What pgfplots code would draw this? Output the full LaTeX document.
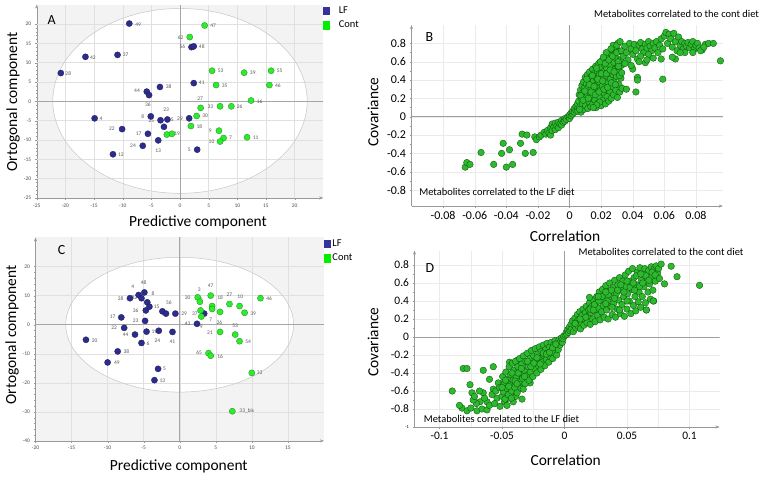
\documentclass[border=0pt]{standalone}
\usepackage{pgfplots}
\pgfplotsset{compat=1.18}
\usepackage{fontspec}
\setmainfont{Carlito}
\usetikzlibrary{arrows.meta}

\definecolor{lfblue}{RGB}{44,44,140}
\definecolor{lfedge}{RGB}{28,28,88}
\definecolor{cgreen}{RGB}{45,235,45}
\definecolor{cedge}{RGB}{25,140,25}
\definecolor{lgblue}{RGB}{51,51,153}
\definecolor{lggreen}{RGB}{0,240,0}
\definecolor{bdgreen}{RGB}{45,185,45}
\definecolor{bdedge}{RGB}{15,85,15}
\definecolor{pcabg}{RGB}{243,243,243}

\tikzset{gridc/.style={gray!24, line width=0.4bp}}

\pgfplotsset{
  base/.style={
    scale only axis, axis lines=left,
    axis line style={gray!80, -{Stealth[length=4bp,width=3bp]}},
    tick style={gray!80}, tick align=outside,
    major tick length=2bp, minor tick length=1.2bp,
    /pgf/number format/assume math mode=true,
  },
  pca/.style={base, axis background/.style={fill=pcabg},
    ticklabel style={font=\fontsize{5.5}{6}\selectfont, text=black!70},
    minor tick num=4,
    legend style={at={(1,1)}, anchor=north west, draw=none, fill=none,
      font=\fontsize{10.5}{12}\selectfont, inner sep=0pt, row sep=2bp,
      cells={anchor=west}},
  },
  lbl/.style={draw=none, mark=none, forget plot, nodes near coords,
    point meta=explicit symbolic,
    every node near coord/.append style={anchor=center, inner sep=0pt,
      font=\fontsize{5.5}{6}\selectfont, text=black!65}},
  lfpt/.style={only marks, forget plot, mark=*, mark size=3.1bp,
    mark options={fill=lfblue, draw=lfedge, line width=0.3bp}},
  copt/.style={only marks, forget plot, mark=*, mark size=3.1bp,
    mark options={fill=cgreen, draw=cedge, line width=0.3bp}},
  splot/.style={base, grid=major,
    scaled ticks=false,
    xticklabel style={/pgf/number format/fixed, /pgf/number format/precision=2},
    yticklabel style={/pgf/number format/fixed, /pgf/number format/precision=1},
    minor y tick num=1,
    major grid style={gray!16, line width=0.4bp},
  },
  bdpt/.style={only marks, mark=*, mark size=3.3bp,
    mark options={fill=bdgreen, draw=bdedge, line width=0.35bp}},
}

\begin{document}
\begin{tikzpicture}[x=1bp,y=1bp]
\path[use as bounding box] (0,0) rectangle (764,481);

% ---------------- A ----------------
\begin{axis}[pca, at={(36.75bp,283bp)}, anchor=south west,
  width=286.5bp, height=193.4bp,
  xmin=-25, xmax=25, ymin=-25, ymax=25,
  xtick={-25,-20,...,20}, ytick={-25,-20,...,20},
  legend style={/tikz/every odd column/.append style={column sep=7bp}}]
\fill[white] (axis cs:0,0.1) ellipse [x radius=22.2, y radius=23.9];
\pgfplotsinvokeforeach{-20,-15,...,20}{\draw[gridc] (axis cs:#1,-25) -- (axis cs:#1,25);}
\pgfplotsinvokeforeach{-20,-15,...,20}{\draw[gridc] (axis cs:-25,#1) -- (axis cs:25,#1);}
\draw[gray!45, line width=0.5bp] (axis cs:0,0.1) ellipse [x radius=22.2, y radius=23.9];
\draw[gray!70, line width=0.5bp] (axis cs:0,-25) -- (axis cs:0,25);
\draw[gray!70, line width=0.5bp] (axis cs:-25,0) -- (axis cs:25,0);
\addplot[lbl] table[meta=l] {
x y l
-7.3 19.9 49
5.8 19.6 47
0.1 16.5 62
0.4 14.1 56
3.8 14.2 48
-15.2 11.3 42
-9.5 12.0 37
-19.5 7.2 28
7.1 7.8 53
12.7 7.3 39
17.4 7.8 55
7.8 4.1 35
17.1 4.1 46
3.8 4.7 41
-2.0 3.7 38
-7.5 2.6 44
-5.6 -0.9 36
3.5 0.6 27
5.3 -1.5 33
10.4 -1.5 26
13.9 0.0 16
-2.4 -2.3 23
0.0 -4.5 29
4.4 -3.8 30
-13.8 -4.4 4
-6.5 -3.9 8
-5.0 -5.1 25
-1.6 -4.7 15
3.4 -6.5 18
-11.9 -7.2 22
5.3 -7.6 9
-7.2 -8.4 17
-0.5 -8.4 19
8.8 -9.3 7
13.2 -9.3 11
5.5 -10.4 10
-8.2 -11.5 24
-3.8 -12.7 13
-10.3 -13.9 12
1.6 -12.6 5
};
\addplot[lfpt] coordinates {
(-8.85,20.1) (-16.5,11.5) (-10.9,12.0) (-20.8,7.3) (-5.8,2.5) (-5.4,1.6)
(-3.5,3.7) (2.4,4.7) (2.0,14.0) (2.4,14.2) (-14.9,-4.4) (-5.1,-3.9)
(-3.4,-4.9) (-2.2,-4.7) (-2.8,-6.6) (1.6,-4.4) (-10.1,-7.2) (-5.6,-8.4)
(-6.5,-11.5) (-3.8,-10.1) (-11.7,-13.7) (3.0,-12.5)
};
\addplot[copt] coordinates {
(4.3,19.6) (1.7,16.6) (5.6,7.9) (11.2,7.4) (15.9,7.9) (6.3,4.2) (15.6,4.2)
(12.4,0.2) (3.6,-1.7) (7.0,-1.3) (8.95,-1.3) (2.9,-3.8) (1.9,-6.4)
(6.8,-7.6) (7.6,-9.5) (7.0,-10.4) (11.7,-9.3) (-2.3,-8.6) (-1.4,-8.4)
};
\addlegendimage{legend image code/.code={\fill[lgblue] (0bp,-3.7bp) rectangle (6bp,3.7bp);}}
\addlegendentry{LF}
\addlegendimage{legend image code/.code={\fill[lggreen] (0bp,-3.7bp) rectangle (6bp,3.7bp);}}
\addlegendentry{Cont}
\end{axis}

% ---------------- C ----------------
\begin{axis}[pca, at={(35.5bp,40.1bp)}, anchor=south west,
  width=288.4bp, height=203.4bp,
  xmin=-20, xmax=20, ymin=-40, ymax=30,
  xtick={-20,-15,...,15}, ytick={-40,-30,...,20}]
\fill[white] (axis cs:0,0) ellipse [x radius=15.8, y radius=23.2];
\pgfplotsinvokeforeach{-15,-10,...,15}{\draw[gridc] (axis cs:#1,-40) -- (axis cs:#1,30);}
\pgfplotsinvokeforeach{-30,-20,...,20}{\draw[gridc] (axis cs:-20,#1) -- (axis cs:20,#1);}
\draw[gray!45, line width=0.5bp] (axis cs:0,0) ellipse [x radius=15.8, y radius=23.2];
\draw[gray!70, line width=0.5bp] (axis cs:0,-40) -- (axis cs:0,30);
\draw[gray!70, line width=0.5bp] (axis cs:-20,0) -- (axis cs:20,0);
\addplot[lbl] table[meta=l] {
x y l
-6.5 13.1 4
-5.0 14.5 48
-3.7 10.8 8
-8.2 9.1 28
-6.3 9.1 32
-6.1 4.9 36
-3.2 6.2 15
-1.5 7.6 56
0.6 3.7 29
-9.3 2.8 17
-6.1 1.3 23
-9.1 -1.1 22
-7.5 -3.6 44
-3.5 -2.4 19
-4.4 -6.5 6
-3.1 -5.5 24
-1.0 -5.9 41
-11.8 -5.4 20
-7.4 -9.3 38
-8.7 -13.0 49
-2.1 -15.3 5
-2.4 -19.3 13
1.1 9.4 30
2.7 11.9 3
2.8 8.7 52
4.3 13.3 47
5.6 9.3 18
6.9 10.4 27
8.4 9.6 10
12.4 9.1 46
10.2 3.9 39
2.1 3.7 37
4.3 1.6 7
1.1 0.3 43
3.0 -0.8 9
5.5 0.8 26
4.2 -2.8 21
7.7 -0.3 53
9.5 -5.9 54
2.7 -9.6 65
5.6 -11.0 16
11.1 -16.7 33
9.3 -29.7 33\_bis
};
\addplot[lfpt] coordinates {
(-5.7,10.2) (-4.9,11.1) (-6.9,9.1) (-5.3,9.1) (-4.5,7.7) (-4.7,4.9)
(-4.2,6.2) (-2.4,4.6) (-1.9,3.8) (-0.6,3.8) (-8.1,2.5) (-4.8,1.3)
(-7.7,-1.1) (-6.2,-3.4) (-4.6,-2.4) (-2.9,-2.1) (-1.0,-2.5) (-5.3,-6.3)
(-13.0,-5.2) (-8.6,-9.2) (-10.0,-13.0) (-3.0,-15.2) (-3.5,-19.1)
(2.4,0.3) (3.4,3.8)
};
\addplot[copt] coordinates {
(2.5,9.4) (2.8,7.9) (4.3,10.0) (4.5,6.4) (4.5,5.4) (5.6,4.4) (6.9,7.1)
(8.3,6.4) (11.2,9.1) (9.0,4.1) (2.9,4.9) (3.0,2.8) (5.6,-2.5) (7.7,-3.4)
(8.3,-5.7) (4.0,-9.8) (4.3,-10.7) (10.0,-16.6) (7.3,-29.8)
};
\addlegendimage{legend image code/.code={\fill[lgblue] (0bp,-3.7bp) rectangle (6bp,3.7bp);}}
\addlegendentry{LF}
\addlegendimage{legend image code/.code={\fill[lggreen] (0bp,-3.7bp) rectangle (6bp,3.7bp);}}
\addlegendentry{Cont}
\end{axis}

% ---------------- B ----------------
\begin{axis}[splot, at={(411.5bp,274.9bp)}, anchor=south west,
  width=311.3bp, height=181bp,
  xmin=-0.1, xmax=0.097, ymin=-0.975, ymax=1,
  xtick={-0.08,-0.06,-0.04,-0.02,0,0.02,0.04,0.06,0.08},
  ytick={-0.8,-0.6,-0.4,-0.2,0,0.2,0.4,0.6,0.8},
  ticklabel style={font=\fontsize{12}{14}\selectfont}]
\draw[gray!75, line width=0.6bp] (axis cs:0,-0.975) -- (axis cs:0,1);
\draw[gray!75, line width=0.6bp] (axis cs:-0.1,0) -- (axis cs:0.097,0);
\addplot[bdpt] coordinates {
(-0.066,-0.55)(-0.065,-0.50)(-0.063,-0.52)(-0.056,-0.39)(-0.048,-0.52)(-0.043,-0.40)
(-0.042,-0.29)(-0.040,-0.55)(-0.038,-0.36)(-0.036,-0.52)(-0.031,-0.29)(-0.030,-0.19)
(-0.028,-0.40)(-0.027,-0.20)(-0.023,-0.39)(-0.022,-0.22)(-0.021,-0.25)(-0.019,-0.22)
(-0.018,-0.20)(-0.016,-0.17)(-0.015,-0.19)(-0.014,-0.15)(-0.013,-0.18)(-0.012,-0.12)
(-0.012,-0.20)(-0.011,-0.08)(-0.011,-0.15)(-0.010,-0.11)(-0.009,-0.14)(-0.009,-0.07)
(-0.008,-0.10)(-0.007,-0.12)(-0.007,-0.06)(-0.006,-0.08)(-0.005,-0.04)(-0.005,-0.09)
(-0.004,-0.06)(-0.003,-0.02)(-0.003,-0.05)(-0.002,-0.03)(-0.001,0.00)(0.000,-0.02)
(0.000,0.02)(0.001,0.01)(0.001,0.04)(0.002,0.03)(0.002,0.06)(0.003,0.05)(0.003,0.09)
(0.004,0.07)(0.004,0.11)(0.005,0.09)(0.005,0.14)
(0.0052,0.06)(0.0058,0.17)(0.0061,0.24)(0.0066,0.11)(0.0069,0.29)(0.0073,0.05)
(0.0075,0.20)(0.0078,0.34)(0.0081,0.14)(0.0084,0.26)(0.0088,0.38)(0.0090,0.08)
(0.0093,0.31)(0.0095,0.19)(0.0099,0.43)(0.0102,0.12)(0.0104,0.27)(0.0107,0.36)
(0.0111,0.22)(0.0113,0.46)(0.0116,0.09)(0.0118,0.32)(0.0121,0.40)(0.0124,0.16)
(0.0127,0.49)(0.0129,0.26)(0.0132,0.37)(0.0135,0.11)(0.0138,0.44)(0.0140,0.21)
(0.0143,0.31)(0.0146,0.52)(0.0148,0.14)(0.0151,0.39)(0.0153,0.27)(0.0157,0.47)
(0.0160,0.18)(0.0162,0.34)(0.0165,0.55)(0.0168,0.10)(0.0170,0.42)(0.0173,0.25)
(0.0176,0.50)(0.0178,0.31)(0.0181,0.15)(0.0184,0.58)(0.0186,0.38)(0.0189,0.46)
(0.0192,0.21)(0.0194,0.29)(0.0197,0.54)(0.0200,0.12)(0.0203,0.41)(0.0205,0.61)
(0.0208,0.34)(0.0211,0.18)(0.0213,0.49)(0.0216,0.26)(0.0219,0.57)(0.0221,0.38)
(0.0224,0.64)(0.0227,0.14)(0.0229,0.45)(0.0232,0.30)(0.0235,0.53)(0.0237,0.22)
(0.0240,0.67)(0.0243,0.37)(0.0245,0.60)(0.0248,0.17)(0.0251,0.48)(0.0253,0.28)
(0.0256,0.70)(0.0259,0.41)(0.0262,0.56)(0.0264,0.20)(0.0267,0.63)(0.0270,0.33)
(0.0272,0.73)(0.0275,0.46)(0.0278,0.24)(0.0281,0.59)(0.0283,0.38)(0.0286,0.68)
(0.0289,0.52)(0.0292,0.29)(0.0294,0.76)(0.0297,0.44)(0.0300,0.63)(0.0303,0.21)
(0.0306,0.55)(0.0309,0.71)(0.0312,0.35)(0.0315,0.49)(0.0318,0.27)(0.0321,0.62)
(0.0325,0.42)(0.0329,0.56)(0.0333,0.31)
(0.0064,0.08)(0.0071,0.23)(0.0086,0.18)(0.0097,0.28)(0.0109,0.41)(0.0119,0.20)
(0.0126,0.35)(0.0137,0.27)(0.0144,0.45)(0.0155,0.33)(0.0163,0.24)(0.0171,0.53)
(0.0179,0.41)(0.0187,0.27)(0.0195,0.60)(0.0202,0.47)(0.0210,0.39)(0.0218,0.30)
(0.0226,0.58)(0.0233,0.47)(0.0241,0.32)(0.0249,0.62)(0.0257,0.51)(0.0265,0.37)
(0.0273,0.66)(0.0282,0.49)(0.0290,0.35)(0.0299,0.70)(0.0308,0.60)(0.0316,0.45)
(0.0276,0.78)(0.0262,0.74)(0.0305,0.80)(0.0232,0.70)(0.0214,0.65)(0.0190,0.16)
(0.0172,0.13)(0.0150,0.10)
(0.030,0.78)(0.032,0.82)(0.033,0.72)(0.034,0.66)(0.035,0.77)(0.036,0.70)(0.037,0.62)
(0.038,0.80)(0.039,0.74)(0.040,0.68)(0.041,0.79)(0.042,0.72)(0.043,0.63)(0.044,0.78)
(0.045,0.81)(0.046,0.74)(0.047,0.70)(0.048,0.79)(0.049,0.75)(0.050,0.82)(0.051,0.77)
(0.052,0.72)(0.053,0.80)(0.054,0.75)(0.055,0.82)(0.056,0.70)(0.057,0.78)(0.058,0.85)
(0.059,0.74)(0.060,0.88)(0.061,0.92)(0.062,0.80)(0.063,0.90)(0.064,0.85)(0.065,0.76)
(0.066,0.91)(0.067,0.82)(0.068,0.72)(0.069,0.87)(0.070,0.78)(0.071,0.82)(0.072,0.74)
(0.073,0.80)(0.074,0.77)(0.075,0.81)(0.076,0.75)(0.077,0.79)(0.078,0.82)(0.079,0.74)
(0.080,0.78)(0.081,0.80)(0.082,0.75)(0.084,0.73)(0.086,0.79)(0.088,0.80)(0.091,0.80)
(0.0955,0.61)
(0.040,0.52)(0.043,0.43)(0.043,0.40)(0.036,0.30)(0.042,0.27)(0.059,0.41)(0.058,0.63)
(0.067,0.63)(0.048,0.59)(0.035,0.58)(0.033,0.48)(0.031,0.55)(0.045,0.66)(0.050,0.68)
(0.053,0.64)(0.065,0.65)(0.073,0.70)(0.078,0.70)(0.083,0.72)(0.085,0.76)(0.070,0.70)
(0.039,0.56)(0.044,0.60)(0.049,0.62)
};
\end{axis}

% ---------------- D ----------------
\begin{axis}[splot, at={(414.5bp,54bp)}, anchor=south west,
  width=305bp, height=176.4bp,
  xmin=-0.12, xmax=0.124, ymin=-1, ymax=0.96,
  xtick={-0.1,-0.05,0,0.05,0.1},
  ytick={-0.8,-0.6,-0.4,-0.2,0,0.2,0.4,0.6,0.8},
  minor x tick num=1, minor grid style={gray!16, line width=0.4bp},
  xminorgrids=true,
  extra y ticks={-1}, extra y tick style={grid=none, tick label style={font=\fontsize{4.5}{5}\selectfont}},
  ticklabel style={font=\fontsize{11.5}{13}\selectfont}]
\draw[gray!75, line width=0.6bp] (axis cs:0,-1) -- (axis cs:0,0.96);
\draw[gray!75, line width=0.6bp] (axis cs:-0.12,0) -- (axis cs:0.124,0);
\addplot[bdpt] coordinates {
(-0.0898,-0.60)(-0.081,-0.35)(-0.078,-0.35)(-0.065,-0.37)(-0.057,-0.33)(-0.0756,-0.53)
(-0.074,-0.62)(-0.060,-0.47)(-0.082,-0.79)(-0.084,-0.76)(-0.078,-0.82)(-0.075,-0.79)
(-0.070,-0.82)(-0.066,-0.80)(-0.062,-0.81)(-0.0676,-0.72)(-0.0705,-0.74)(-0.062,-0.72)
(-0.065,-0.62)(-0.073,-0.70)(-0.057,-0.58)(-0.054,-0.68)(-0.0516,-0.77)(-0.053,-0.51)
(-0.0485,-0.51)(-0.046,-0.62)(-0.041,-0.72)(-0.034,-0.69)(-0.0275,-0.51)(-0.044,-0.28)
(-0.036,-0.42)(-0.0335,-0.55)(-0.038,-0.26)
(-0.072,-0.66)(-0.068,-0.60)(-0.064,-0.68)(-0.060,-0.76)(-0.058,-0.64)(-0.055,-0.60)
(-0.056,-0.74)(-0.052,-0.56)(-0.050,-0.66)(-0.048,-0.72)(-0.045,-0.68)(-0.043,-0.62)
(-0.046,-0.76)(-0.039,-0.66)
(-0.0495,-0.44)(-0.0488,-0.61)(-0.0481,-0.52)(-0.0476,-0.69)(-0.0469,-0.39)(-0.0462,-0.57)
(-0.0455,-0.47)(-0.0449,-0.64)(-0.0443,-0.33)(-0.0437,-0.53)(-0.0430,-0.42)(-0.0424,-0.60)
(-0.0417,-0.29)(-0.0411,-0.48)(-0.0405,-0.37)(-0.0398,-0.56)(-0.0392,-0.27)(-0.0386,-0.44)
(-0.0379,-0.62)(-0.0373,-0.33)(-0.0367,-0.50)(-0.0360,-0.24)(-0.0354,-0.40)(-0.0348,-0.57)
(-0.0341,-0.30)(-0.0335,-0.46)(-0.0329,-0.21)(-0.0322,-0.37)(-0.0316,-0.52)(-0.0310,-0.27)
(-0.0303,-0.43)(-0.0297,-0.18)(-0.0291,-0.33)(-0.0284,-0.48)(-0.0278,-0.24)(-0.0272,-0.39)
(-0.0265,-0.15)(-0.0259,-0.30)(-0.0253,-0.44)(-0.0246,-0.21)(-0.0240,-0.35)(-0.0234,-0.13)
(-0.0227,-0.27)(-0.0221,-0.40)(-0.0215,-0.19)(-0.0208,-0.32)(-0.0202,-0.11)(-0.0196,-0.24)
(-0.0189,-0.36)(-0.0183,-0.16)(-0.0177,-0.28)(-0.0170,-0.09)(-0.0164,-0.21)(-0.0158,-0.32)
(-0.0151,-0.14)(-0.0145,-0.25)(-0.0139,-0.07)(-0.0132,-0.18)(-0.0126,-0.28)(-0.0120,-0.11)
(-0.0113,-0.22)(-0.0107,-0.06)(-0.0101,-0.15)(-0.0094,-0.24)(-0.0088,-0.09)(-0.0082,-0.18)
(-0.0075,-0.04)(-0.0069,-0.12)(-0.0063,-0.20)(-0.0056,-0.07)(-0.0050,-0.14)(-0.0044,-0.03)
(-0.0037,-0.09)(-0.0031,-0.05)(-0.0025,-0.01)(-0.0018,-0.06)(-0.0012,-0.02)(-0.0006,0.01)
(-0.0472,-0.48)(-0.0446,-0.55)(-0.0420,-0.40)(-0.0395,-0.49)(-0.0370,-0.40)(-0.0345,-0.35)
(-0.0320,-0.44)(-0.0295,-0.27)(-0.0270,-0.33)(-0.0245,-0.29)(-0.0220,-0.23)(-0.0195,-0.30)
(-0.0170,-0.18)(-0.0145,-0.19)(-0.0120,-0.17)(-0.0095,-0.12)(-0.0070,-0.08)(-0.0500,-0.56)
(-0.0425,-0.68)(-0.0380,-0.52)(-0.0330,-0.58)
(0.0006,0.02)(0.0013,0.05)(0.0019,0.03)(0.0026,0.08)(0.0032,0.05)(0.0039,0.11)
(0.0045,0.07)(0.0052,0.14)(0.0058,0.09)(0.0064,0.18)(0.0071,0.06)(0.0077,0.13)
(0.0083,0.21)(0.0090,0.10)(0.0096,0.17)(0.0103,0.25)(0.0109,0.12)(0.0116,0.20)
(0.0122,0.28)(0.0128,0.09)(0.0135,0.16)(0.0141,0.24)(0.0148,0.31)(0.0154,0.13)
(0.0161,0.20)(0.0167,0.27)(0.0174,0.34)(0.0180,0.16)(0.0187,0.23)(0.0193,0.30)
(0.0200,0.38)(0.0206,0.14)(0.0213,0.27)(0.0219,0.34)(0.0226,0.20)(0.0232,0.41)
(0.0239,0.29)(0.0245,0.17)(0.0252,0.37)(0.0258,0.45)(0.0265,0.24)(0.0271,0.32)
(0.0278,0.50)(0.0284,0.19)(0.0291,0.41)(0.0297,0.28)(0.0304,0.53)(0.0310,0.35)
(0.0317,0.22)(0.0323,0.46)(0.0330,0.57)(0.0336,0.30)(0.0343,0.40)(0.0349,0.20)
(0.0356,0.51)(0.0362,0.60)(0.0369,0.34)(0.0375,0.45)(0.0382,0.25)(0.0388,0.55)
(0.0395,0.38)(0.0401,0.63)(0.0408,0.22)(0.0414,0.48)(0.0421,0.31)(0.0427,0.58)
(0.0434,0.41)(0.0440,0.66)(0.0447,0.26)(0.0453,0.52)(0.0460,0.36)(0.0466,0.62)
(0.0473,0.45)(0.0479,0.23)(0.0486,0.69)(0.0492,0.56)(0.0499,0.31)(0.0505,0.48)
(0.0512,0.73)(0.0518,0.40)(0.0525,0.62)(0.0531,0.26)(0.0538,0.53)(0.0544,0.76)
(0.0551,0.35)(0.0557,0.66)(0.0564,0.45)(0.0570,0.29)(0.0577,0.58)(0.0583,0.72)
(0.0590,0.39)(0.0596,0.50)(0.0603,0.77)(0.0609,0.33)(0.0616,0.63)(0.0622,0.45)
(0.0629,0.70)(0.0635,0.56)(0.0642,0.76)(0.0648,0.38)(0.0655,0.30)(0.0661,0.66)
(0.0668,0.50)(0.0674,0.74)(0.0681,0.59)(0.0687,0.42)(0.0694,0.78)(0.0700,0.67)
(0.0707,0.52)(0.0713,0.40)(0.0720,0.76)(0.0726,0.62)(0.0733,0.79)(0.0745,0.71)
(0.0752,0.76)
(0.0085,0.15)(0.0125,0.20)(0.0170,0.22)(0.0205,0.31)(0.0240,0.36)(0.0275,0.40)
(0.0300,0.45)(0.0330,0.37)(0.0350,0.47)(0.0375,0.52)(0.0400,0.43)(0.0425,0.52)
(0.0450,0.58)(0.0475,0.50)(0.0500,0.62)(0.0525,0.55)(0.0550,0.60)(0.0575,0.68)
(0.0600,0.56)(0.0625,0.60)(0.0650,0.68)(0.0675,0.63)(0.0700,0.72)(0.0725,0.69)
(0.0380,0.33)(0.0440,0.30)(0.0500,0.40)(0.0560,0.52)(0.0610,0.70)(0.0330,0.50)
(0.0270,0.45)(0.0230,0.30)
(0.0773,0.81)(0.0853,0.786)(0.090,0.67)(0.076,0.65)(0.080,0.59)(0.108,0.574)
(0.020,0.44)(0.0655,0.30)(0.071,0.40)
};
\end{axis}

% ---------------- texts ----------------
\node[font=\fontsize{14}{16}\selectfont] at (51.7,461) {A};
\node[font=\fontsize{14}{16}\selectfont] at (429.3,443.7) {B};
\node[font=\fontsize{14}{16}\selectfont] at (61.7,231) {C};
\node[font=\fontsize{14}{16}\selectfont] at (430,212.7) {D};

\node[font=\fontsize{15.5}{18}\selectfont] at (198,259) {Predictive component};
\node[font=\fontsize{15.5}{18}\selectfont] at (178.8,14.3) {Predictive component};
\node[font=\fontsize{15.5}{18}\selectfont, rotate=90] at (13,379) {Ortogonal component};
\node[font=\fontsize{15.5}{18}\selectfont, rotate=90] at (12,146) {Ortogonal component};

\node[font=\fontsize{15.5}{18}\selectfont] at (565,245) {Correlation};
\node[font=\fontsize{15.5}{18}\selectfont] at (565.7,21) {Correlation};
\node[font=\fontsize{15.5}{18}\selectfont, rotate=90] at (373,369) {Covariance};
\node[font=\fontsize{15.5}{18}\selectfont, rotate=90] at (373,139) {Covariance};

\node[font=\fontsize{10.5}{12}\selectfont] at (676.5,467) {Metabolites correlated to the cont diet};
\node[font=\fontsize{10.5}{12}\selectfont] at (497,289) {Metabolites correlated to the LF diet};
\node[font=\fontsize{10.5}{12}\selectfont] at (661,229) {Metabolites correlated to the cont diet};
\node[font=\fontsize{10.5}{12}\selectfont] at (501.5,62) {Metabolites correlated to the LF diet};
\end{tikzpicture}
\end{document}
